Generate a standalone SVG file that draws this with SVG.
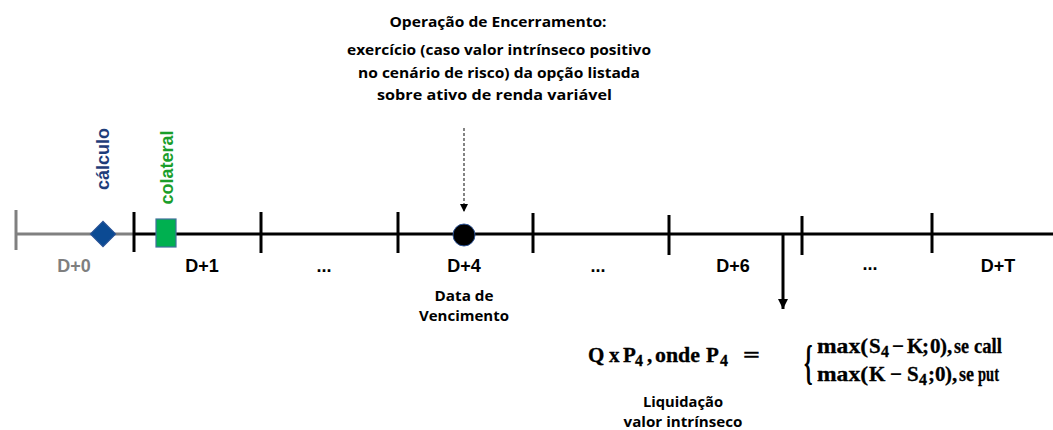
<svg xmlns="http://www.w3.org/2000/svg" width="1053" height="430" viewBox="0 0 1053 430">
<style>
.cal{font-family:"Open Sans","Noto Sans","Liberation Sans",sans-serif;font-weight:bold;font-size:14px;fill:#000;text-anchor:middle}
.lbl{font-family:"Liberation Sans",Arial,sans-serif;font-weight:bold;font-size:18px;fill:#000;text-anchor:middle}
.fm{font-family:"Liberation Serif","Times New Roman",serif;font-weight:bold;font-size:21px;fill:#000;stroke:#000;stroke-width:0.3}
.sub{font-size:16px}
.tick{stroke:#000;stroke-width:3}
</style>
<defs>
<marker id="ahS" viewBox="0 0 10 10" refX="10" refY="5" markerWidth="8" markerHeight="8" markerUnits="userSpaceOnUse" orient="auto">
<path d="M0,0 L10,5 L0,10 Z" fill="#000"/>
</marker>
<marker id="ahL" viewBox="0 0 10 10" refX="10" refY="5" markerWidth="12" markerHeight="10" markerUnits="userSpaceOnUse" orient="auto">
<path d="M0,0 L10,5 L0,10 Z" fill="#000"/>
</marker>
</defs>
<rect width="1053" height="430" fill="#fff"/>

<g id="timeline">
<line x1="16" y1="234" x2="134" y2="234" stroke="#808080" stroke-width="3"/>
<line x1="16" y1="210" x2="16" y2="250" stroke="#808080" stroke-width="3"/>
<line x1="134" y1="234" x2="1053" y2="234" stroke="#000" stroke-width="3"/>
<line class="tick" x1="134" y1="212" x2="134" y2="252"/>
<line class="tick" x1="261" y1="212" x2="261" y2="253"/>
<line class="tick" x1="398" y1="212" x2="398" y2="253"/>
<line class="tick" x1="533" y1="213" x2="533" y2="253"/>
<line class="tick" x1="669" y1="215" x2="669" y2="255"/>
<line class="tick" x1="802" y1="216" x2="802" y2="255"/>
<line class="tick" x1="932" y1="213" x2="932" y2="253"/>
</g>

<g id="labels">
<text class="lbl" x="74" y="272" style="fill:#7F7F7F">D+0</text>
<text class="lbl" x="202" y="272">D+1</text>
<text class="lbl" x="324" y="272">...</text>
<text class="lbl" x="464" y="272">D+4</text>
<text class="lbl" x="598" y="272">...</text>
<text class="lbl" x="733" y="272">D+6</text>
<text class="lbl" x="870" y="270">...</text>
<text class="lbl" x="998" y="272">D+T</text>
</g>

<g id="calculo">
<rect x="94" y="225" width="18" height="18" transform="rotate(45 103 234)" fill="#0B4A93" stroke="#2F5597" stroke-width="1"/>
<text class="lbl" transform="translate(109,159) rotate(-90)" style="fill:#1F3D7A">cálculo</text>
</g>

<g id="colateral">
<rect x="156" y="219" width="20" height="28" fill="#00B050" stroke="#41719C" stroke-width="1.2"/>
<text class="lbl" transform="translate(173,167.5) rotate(-90)" style="fill:#1A9E2A">colateral</text>
</g>

<g id="vencimento">
<circle cx="464" cy="235" r="11" fill="#000" stroke="#2E5597" stroke-width="1"/>
<text class="cal" x="464" y="301" textLength="59" lengthAdjust="spacingAndGlyphs">Data de</text>
<text class="cal" x="464" y="321" textLength="90" lengthAdjust="spacingAndGlyphs">Vencimento</text>
</g>

<g id="encerramento">
<text class="cal" x="498" y="27" textLength="217" lengthAdjust="spacingAndGlyphs">Operação de Encerramento:</text>
<text class="cal" x="499" y="55" textLength="304" lengthAdjust="spacingAndGlyphs">exercício (caso valor intrínseco positivo</text>
<text class="cal" x="499" y="78" textLength="282" lengthAdjust="spacingAndGlyphs">no cenário de risco) da opção listada</text>
<text class="cal" x="494.5" y="100" textLength="235" lengthAdjust="spacingAndGlyphs">sobre ativo de renda variável</text>
</g>

<g id="liquidacao">
<text class="fm" x="588" y="362">Q</text>
<text class="fm" x="609" y="362">x</text>
<text class="fm" x="623" y="362">P</text>
<text class="fm sub" x="635" y="366">4</text>
<text class="fm" x="647" y="362">,</text>
<text class="fm" x="655" y="362" textLength="45" lengthAdjust="spacingAndGlyphs">onde</text>
<text class="fm" x="706" y="362">P</text>
<text class="fm sub" x="720" y="366">4</text>
<text class="fm" x="743" y="362" textLength="17" lengthAdjust="spacingAndGlyphs">=</text>

<text transform="translate(804,379) scale(1,2.2)" style="font-family:'Liberation Serif',serif;font-weight:bold;font-size:22px;fill:#000">{</text>

<text class="fm" x="817" y="353" textLength="51" lengthAdjust="spacingAndGlyphs">max(</text>
<text class="fm" x="869" y="353">S</text>
<text class="fm sub" x="881" y="357">4</text>
<text class="fm" x="892" y="353" textLength="12" lengthAdjust="spacingAndGlyphs">−</text>
<text class="fm" x="907" y="353">K</text>
<text class="fm" x="922" y="353">;</text>
<text class="fm" x="930" y="353">0</text>
<text class="fm" x="940" y="353">)</text>
<text class="fm" x="947" y="353">,</text>
<text class="fm" x="954" y="353" textLength="15" lengthAdjust="spacingAndGlyphs">se</text>
<text class="fm" x="974" y="353" textLength="28" lengthAdjust="spacingAndGlyphs">call</text>

<text class="fm" x="817" y="381" textLength="51" lengthAdjust="spacingAndGlyphs">max(</text>
<text class="fm" x="869" y="381">K</text>
<text class="fm" x="890" y="381" textLength="12" lengthAdjust="spacingAndGlyphs">−</text>
<text class="fm" x="907" y="381">S</text>
<text class="fm sub" x="919" y="385">4</text>
<text class="fm" x="928" y="381">;</text>
<text class="fm" x="935" y="381">0</text>
<text class="fm" x="945" y="381">)</text>
<text class="fm" x="952" y="381">,</text>
<text class="fm" x="959" y="381" textLength="15" lengthAdjust="spacingAndGlyphs">se</text>
<text class="fm" x="978" y="381" textLength="21" lengthAdjust="spacingAndGlyphs">put</text>

<text class="cal" x="683" y="407" textLength="80" lengthAdjust="spacingAndGlyphs">Liquidação</text>
<text class="cal" x="683" y="427" textLength="119" lengthAdjust="spacingAndGlyphs">valor intrínseco</text>
</g>

<g id="connectors">
<line x1="464" y1="128" x2="464" y2="212" stroke="#333" stroke-width="1.2" stroke-dasharray="3,2" marker-end="url(#ahS)"/>
<line x1="783" y1="234" x2="783" y2="309" stroke="#000" stroke-width="3" marker-end="url(#ahL)"/>
</g>
</svg>
